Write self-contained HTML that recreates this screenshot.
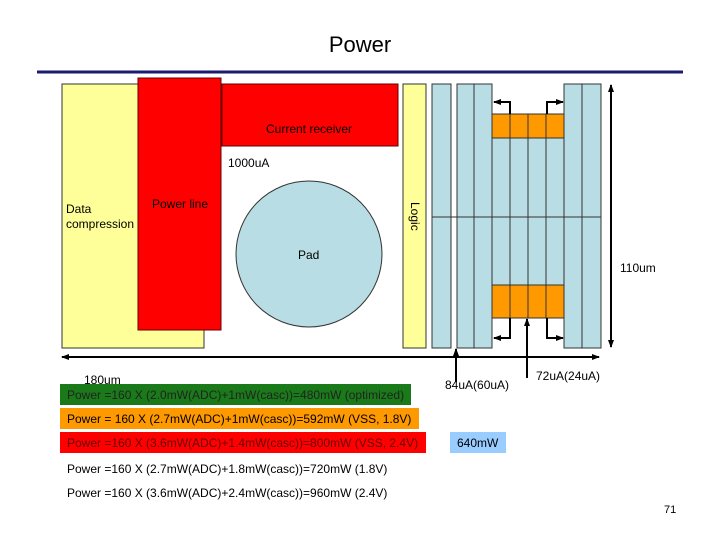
<!DOCTYPE html>
<html><head><style>
body{margin:0;width:720px;height:540px;background:#fff;overflow:hidden;font-family:"Liberation Sans",sans-serif;}
</style></head><body>
<svg width="720" height="540" xmlns="http://www.w3.org/2000/svg" font-family="Liberation Sans, sans-serif">
<defs>
<marker id="a" markerWidth="8" markerHeight="8" refX="7" refY="4" orient="auto-start-reverse" markerUnits="userSpaceOnUse"><path d="M0,1 L8,4 L0,7z" fill="#000"/></marker>
</defs>
<text x="360" y="52" font-size="22" text-anchor="middle">Power</text>
<line x1="37" y1="72" x2="683" y2="72" stroke="#1a1a6e" stroke-width="3"/>
<rect x="62" y="84" width="142" height="264" fill="#ffff99" stroke="#333" stroke-width="1"/>
<rect x="138" y="78" width="83" height="252" fill="#f00" stroke="#600" stroke-width="1"/>
<rect x="222" y="84" width="176" height="62" fill="#f00" stroke="#600" stroke-width="1"/>
<circle cx="309" cy="254" r="73" fill="#b8dde4" stroke="#333" stroke-width="1"/>
<text x="266" y="133" font-size="12">Current receiver</text>
<text x="228" y="167" font-size="12">1000uA</text>
<text x="152" y="208" font-size="12">Power line</text>
<text x="66" y="213" font-size="12">Data</text>
<text x="66" y="228" font-size="12">compression</text>
<text x="298" y="259" font-size="12">Pad</text>
<rect x="403" y="84" width="23" height="264" fill="#ffff99" stroke="#333"/>
<text x="0" y="0" font-size="12" transform="translate(411,202) rotate(90)">Logic</text>
<g fill="#b8dde4" stroke="#333" stroke-width="1">
<rect x="432" y="84" width="19" height="264"/>
<rect x="457" y="84" width="17" height="264"/>
<rect x="474" y="84" width="18" height="264"/>
<rect x="492" y="114" width="18" height="204"/>
<rect x="510" y="114" width="18" height="204"/>
<rect x="528" y="114" width="18" height="204"/>
<rect x="546" y="114" width="18" height="204"/>
<rect x="564" y="84" width="18" height="264"/>
<rect x="582" y="84" width="19" height="264"/>
</g>
<g fill="#ff9900" stroke="#333">
<rect x="492" y="114" width="18" height="24"/><rect x="510" y="114" width="18" height="24"/><rect x="528" y="114" width="18" height="24"/><rect x="546" y="114" width="18" height="24"/>
<rect x="492" y="285" width="18" height="33"/><rect x="510" y="285" width="18" height="33"/><rect x="528" y="285" width="18" height="33"/><rect x="546" y="285" width="18" height="33"/>
</g>
<line x1="432" y1="217" x2="601" y2="217" stroke="#333"/>
<g stroke="#000" stroke-width="2" fill="none">
<polyline points="510,114 510,102 494,102" marker-end="url(#a)"/>
<polyline points="547,114 547,102 563,102" marker-end="url(#a)"/>
<polyline points="510,318 510,338 494,338" marker-end="url(#a)"/>
<polyline points="547,318 547,338 563,338" marker-end="url(#a)"/>
<line x1="611" y1="85" x2="611" y2="347" marker-start="url(#a)" marker-end="url(#a)"/>
<line x1="62" y1="357" x2="599" y2="357" marker-start="url(#a)" marker-end="url(#a)"/>
<line x1="456" y1="382" x2="456" y2="349" marker-end="url(#a)"/>
<line x1="527" y1="378" x2="527" y2="319" marker-end="url(#a)"/>
</g>
<text x="620" y="272" font-size="12">110um</text>
<text x="84" y="384" font-size="12">180um</text>
<text x="445" y="389" font-size="12">84uA(60uA)</text>
<text x="536" y="380" font-size="12">72uA(24uA)</text>
<rect x="60" y="384" width="351" height="21" fill="#1a7a1a"/>
<rect x="60" y="408" width="359" height="21" fill="#ff9900"/>
<rect x="60" y="432" width="366" height="21" fill="#f00"/>
<rect x="450" y="432" width="56" height="21" fill="#99ccff"/>
<g font-size="12">
<text x="67" y="399" fill="#222">Power =160 X (2.0mW(ADC)+1mW(casc))=480mW (optimized)</text>
<text x="67" y="423">Power = 160 X (2.7mW(ADC)+1mW(casc))=592mW (VSS, 1.8V)</text>
<text x="67" y="447" fill="#600">Power =160 X (3.6mW(ADC)+1.4mW(casc))=800mW (VSS, 2.4V)</text>
<text x="457" y="447">640mW</text>
<text x="67" y="473">Power =160 X (2.7mW(ADC)+1.8mW(casc))=720mW (1.8V)</text>
<text x="67" y="497">Power =160 X (3.6mW(ADC)+2.4mW(casc))=960mW (2.4V)</text>
<text x="664" y="513" font-size="11">71</text>
</g>
</svg>
</body></html>
